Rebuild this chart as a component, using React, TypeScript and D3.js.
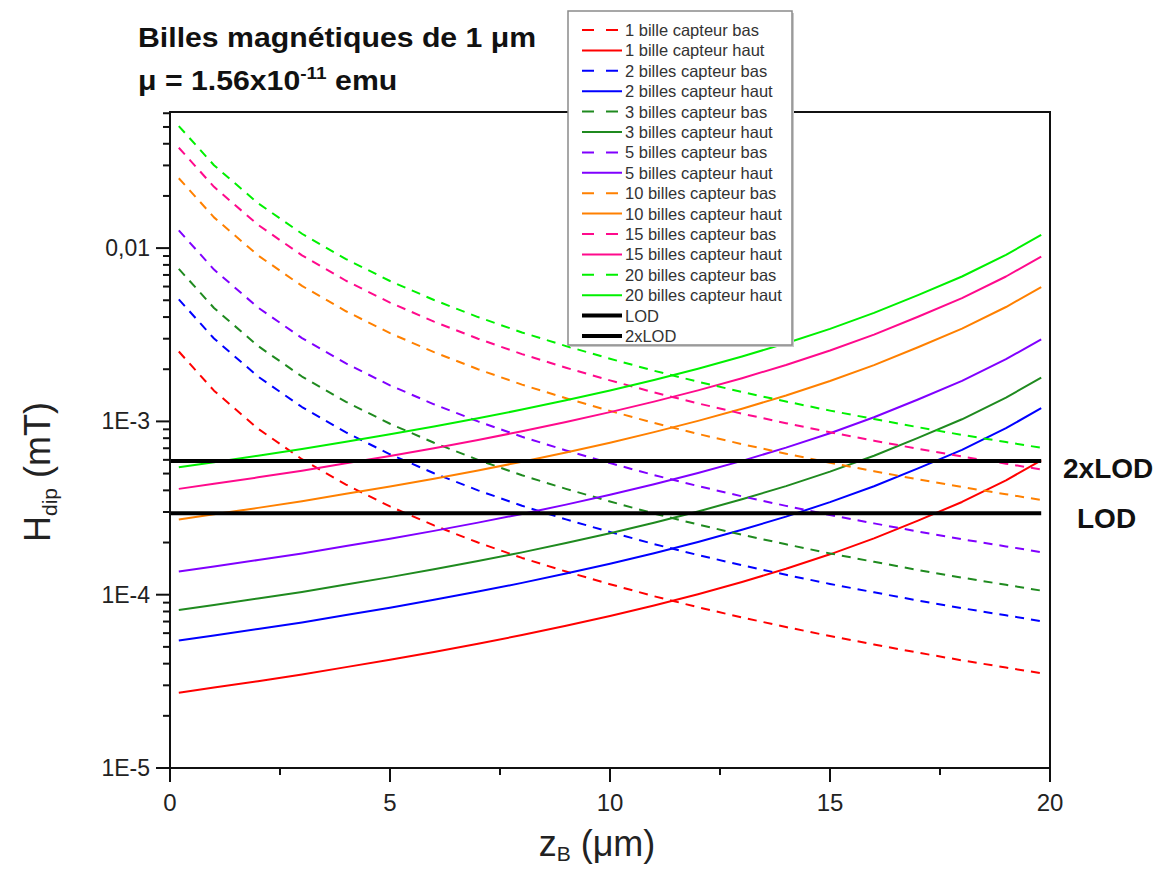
import React from 'react';
import * as d3 from 'd3';

// z positions (µm)
const zPositions = [0.2, 1, 2, 3, 4, 5, 6, 7, 8, 9, 10, 11, 12, 13, 14, 15, 16, 17, 18, 19, 19.8];

// "capteur bas" series (mT)
const bas1 = [2.53e-3, 1.504e-3, 9.08e-4, 6.05e-4, 4.32e-4, 3.23e-4, 2.51e-4, 2.0e-4, 1.63e-4, 1.36e-4, 1.15e-4, 9.8e-5, 8.47e-5, 7.39e-5, 6.51e-5, 5.77e-5, 5.16e-5, 4.63e-5, 4.18e-5, 3.8e-5, 3.52e-5];
const bas2 = [5.06e-3, 3.008e-3, 1.816e-3, 1.21e-3, 8.64e-4, 6.46e-4, 5.02e-4, 4.0e-4, 3.26e-4, 2.72e-4, 2.3e-4, 1.96e-4, 1.694e-4, 1.478e-4, 1.302e-4, 1.154e-4, 1.032e-4, 9.26e-5, 8.36e-5, 7.6e-5, 7.04e-5];
const bas3 = [7.59e-3, 4.512e-3, 2.724e-3, 1.815e-3, 1.296e-3, 9.69e-4, 7.53e-4, 6.0e-4, 4.89e-4, 4.08e-4, 3.45e-4, 2.94e-4, 2.541e-4, 2.217e-4, 1.953e-4, 1.731e-4, 1.548e-4, 1.389e-4, 1.254e-4, 1.14e-4, 1.056e-4];
const bas5 = [1.265e-2, 7.52e-3, 4.54e-3, 3.025e-3, 2.16e-3, 1.615e-3, 1.255e-3, 1.0e-3, 8.15e-4, 6.8e-4, 5.75e-4, 4.9e-4, 4.235e-4, 3.695e-4, 3.255e-4, 2.885e-4, 2.58e-4, 2.315e-4, 2.09e-4, 1.9e-4, 1.76e-4];
const bas10 = [2.53e-2, 1.504e-2, 9.08e-3, 6.05e-3, 4.32e-3, 3.23e-3, 2.51e-3, 2.0e-3, 1.63e-3, 1.36e-3, 1.15e-3, 9.8e-4, 8.47e-4, 7.39e-4, 6.51e-4, 5.77e-4, 5.16e-4, 4.63e-4, 4.18e-4, 3.8e-4, 3.52e-4];
const bas15 = [3.795e-2, 2.256e-2, 1.362e-2, 9.075e-3, 6.48e-3, 4.845e-3, 3.765e-3, 3.0e-3, 2.445e-3, 2.04e-3, 1.725e-3, 1.47e-3, 1.2705e-3, 1.1085e-3, 9.765e-4, 8.655e-4, 7.74e-4, 6.945e-4, 6.27e-4, 5.7e-4, 5.28e-4];
const bas20 = [5.06e-2, 3.008e-2, 1.816e-2, 1.21e-2, 8.64e-3, 6.46e-3, 5.02e-3, 4.0e-3, 3.26e-3, 2.72e-3, 2.3e-3, 1.96e-3, 1.694e-3, 1.478e-3, 1.302e-3, 1.154e-3, 1.032e-3, 9.26e-4, 8.36e-4, 7.6e-4, 7.04e-4];

// "capteur haut" series (mT)
const haut1 = [2.72e-5, 2.91e-5, 3.17e-5, 3.46e-5, 3.82e-5, 4.21e-5, 4.67e-5, 5.21e-5, 5.85e-5, 6.62e-5, 7.54e-5, 8.67e-5, 1.007e-4, 1.184e-4, 1.411e-4, 1.71e-4, 2.113e-4, 2.677e-4, 3.428e-4, 4.571e-4, 5.957e-4];
const haut2 = [5.44e-5, 5.82e-5, 6.34e-5, 6.92e-5, 7.64e-5, 8.42e-5, 9.34e-5, 1.042e-4, 1.17e-4, 1.324e-4, 1.508e-4, 1.734e-4, 2.014e-4, 2.368e-4, 2.822e-4, 3.42e-4, 4.226e-4, 5.354e-4, 6.856e-4, 9.142e-4, 1.1914e-3];
const haut3 = [8.16e-5, 8.73e-5, 9.51e-5, 1.038e-4, 1.146e-4, 1.263e-4, 1.401e-4, 1.563e-4, 1.755e-4, 1.986e-4, 2.262e-4, 2.601e-4, 3.021e-4, 3.552e-4, 4.233e-4, 5.13e-4, 6.339e-4, 8.031e-4, 1.0284e-3, 1.3713e-3, 1.7871e-3];
const haut5 = [1.36e-4, 1.455e-4, 1.585e-4, 1.73e-4, 1.91e-4, 2.105e-4, 2.335e-4, 2.605e-4, 2.925e-4, 3.31e-4, 3.77e-4, 4.335e-4, 5.035e-4, 5.92e-4, 7.055e-4, 8.55e-4, 1.0565e-3, 1.3385e-3, 1.714e-3, 2.2855e-3, 2.9785e-3];
const haut10 = [2.72e-4, 2.91e-4, 3.17e-4, 3.46e-4, 3.82e-4, 4.21e-4, 4.67e-4, 5.21e-4, 5.85e-4, 6.62e-4, 7.54e-4, 8.67e-4, 1.007e-3, 1.184e-3, 1.411e-3, 1.71e-3, 2.113e-3, 2.677e-3, 3.428e-3, 4.571e-3, 5.957e-3];
const haut15 = [4.08e-4, 4.365e-4, 4.755e-4, 5.19e-4, 5.73e-4, 6.315e-4, 7.005e-4, 7.815e-4, 8.775e-4, 9.93e-4, 1.131e-3, 1.3005e-3, 1.5105e-3, 1.776e-3, 2.1165e-3, 2.565e-3, 3.1695e-3, 4.0155e-3, 5.142e-3, 6.8565e-3, 8.9355e-3];
const haut20 = [5.44e-4, 5.82e-4, 6.34e-4, 6.92e-4, 7.64e-4, 8.42e-4, 9.34e-4, 1.042e-3, 1.17e-3, 1.324e-3, 1.508e-3, 1.734e-3, 2.014e-3, 2.368e-3, 2.822e-3, 3.42e-3, 4.226e-3, 5.354e-3, 6.856e-3, 9.142e-3, 1.1914e-2];

// Detection limits
const lodZ = [0, 19.8];
const lodValue = 2.95e-4;
const lod2Value = 5.9e-4;

const seriesNames = [
  '1 bille capteur bas', '1 bille capteur haut',
  '2 billes capteur bas', '2 billes capteur haut',
  '3 billes capteur bas', '3 billes capteur haut',
  '5 billes capteur bas', '5 billes capteur haut',
  '10 billes capteur bas', '10 billes capteur haut',
  '15 billes capteur bas', '15 billes capteur haut',
  '20 billes capteur bas', '20 billes capteur haut',
];
const seriesValues = [bas1, haut1, bas2, haut2, bas3, haut3, bas5, haut5, bas10, haut10, bas15, haut15, bas20, haut20];
const seriesColors = ['#ff0000', '#ff0000', '#0000ff', '#0000ff', '#1f8a1f', '#1f8a1f', '#8000ff', '#8000ff', '#ff8000', '#ff8000', '#ff0a8c', '#ff0a8c', '#00f000', '#00f000'];

const yTickValues = [1e-5, 1e-4, 1e-3, 1e-2];
const yTickLabels = ['1E-5', '1E-4', '1E-3', '0,01'];
const xTickValues = [0, 5, 10, 15, 20];
const xMinorTicks = [2.5, 7.5, 12.5, 17.5];

const FONT = 'Liberation Sans, Arial, Helvetica, sans-serif';

export default function App() {
  const W = 1162, H = 869;
  const L = 170, R = 1050, T = 112, B = 768;
  const x = d3.scaleLinear().domain([0, 20]).range([L, R]);
  const y = d3.scaleLog().domain([1e-5, 0.061]).range([B, T]);

  const line = d3.line<[number, number]>().x(d => x(d[0])).y(d => y(d[1]));

  const yMinor: number[] = [];
  for (let e = -5; e <= -2; e++) {
    for (let k = 2; k <= 9; k++) {
      const v = k * Math.pow(10, e);
      if (v <= 0.061) yMinor.push(v);
    }
  }

  const legendX = 568, legendY = 11, legendW = 224, legendH = 334;
  const rowY = (i: number) => 30 + i * 20.4;

  const legendItems = [
    ...seriesNames.map((n, i) => ({ name: n, color: seriesColors[i], dashed: i % 2 === 0, width: 2 })),
    { name: 'LOD', color: '#000', dashed: false, width: 4 },
    { name: '2xLOD', color: '#000', dashed: false, width: 4 },
  ];

  return (
    <svg width={W} height={H} style={{ position: 'absolute', left: 0, top: 0, background: '#fff' }} fontFamily={FONT}>
      <rect x={0} y={0} width={W} height={H} fill="#fff" />
      <defs>
        <clipPath id="plotClip">
          <rect x={L} y={T} width={R - L} height={B - T} />
        </clipPath>
      </defs>

      {/* Title */}
      <g transform={`translate(138,0) scale(1.12,1)`}>
        <text x={0} y={47} fontSize={27} fontWeight="bold" fill="#111">Billes magnétiques de 1 μm</text>
        <text x={0} y={90} fontSize={27} fontWeight="bold" fill="#111">
          μ = 1.56x10<tspan fontSize={17} dy={-11}>-11</tspan><tspan dy={11}> emu</tspan>
        </text>
      </g>

      {/* Curves */}
      <g clipPath="url(#plotClip)">
        {seriesValues.map((vals, i) => (
          <path
            key={i}
            d={line(zPositions.map((z, j) => [z, vals[j]] as [number, number])) || ''}
            fill="none"
            stroke={seriesColors[i]}
            strokeWidth={2}
            strokeDasharray={i % 2 === 0 ? '9,7' : undefined}
            strokeLinejoin="round"
          />
        ))}
        <path d={line(lodZ.map(z => [z, lod2Value] as [number, number])) || ''} stroke="#000" strokeWidth={4} fill="none" />
        <path d={line(lodZ.map(z => [z, lodValue] as [number, number])) || ''} stroke="#000" strokeWidth={4} fill="none" />
      </g>

      {/* Frame */}
      <rect x={L} y={T} width={R - L} height={B - T} fill="none" stroke="#111" strokeWidth={2} />

      {/* Y ticks */}
      {yTickValues.map((v, i) => (
        <g key={'yt' + i}>
          <line x1={L - 14} x2={L} y1={y(v)} y2={y(v)} stroke="#111" strokeWidth={2} />
          <text x={150} y={y(v) + 8} fontSize={23} textAnchor="end" fill="#222">{yTickLabels[i]}</text>
        </g>
      ))}
      {yMinor.map((v, i) => (
        <line key={'ym' + i} x1={L - 7} x2={L} y1={y(v)} y2={y(v)} stroke="#111" strokeWidth={2} />
      ))}

      {/* X ticks */}
      {xTickValues.map((v, i) => (
        <g key={'xt' + i}>
          <line x1={x(v)} x2={x(v)} y1={B} y2={B + 14} stroke="#111" strokeWidth={2} />
          <text x={x(v)} y={811} fontSize={24} textAnchor="middle" fill="#222">{String(v)}</text>
        </g>
      ))}
      {xMinorTicks.map((v, i) => (
        <line key={'xm' + i} x1={x(v)} x2={x(v)} y1={B} y2={B + 7} stroke="#111" strokeWidth={2} />
      ))}

      {/* Axis titles */}
      <text x={597} y={856} fontSize={36} textAnchor="middle" fill="#222">
        z<tspan fontSize={21} dy={5}>B</tspan><tspan dy={-5}> (μm)</tspan>
      </text>
      <text transform="translate(50,472) rotate(-90)" fontSize={36} textAnchor="middle" fill="#222">
        H<tspan fontSize={21} dy={7}>dip</tspan><tspan dy={-7}> (mT)</tspan>
      </text>

      {/* LOD labels */}
      <text x={1063} y={478} fontSize={28} fontWeight="bold" fill="#111">2xLOD</text>
      <text x={1077} y={528} fontSize={28} fontWeight="bold" fill="#111">LOD</text>

      {/* Legend */}
      <rect x={legendX + 2} y={legendY + 2} width={legendW} height={legendH} fill="#c8c8c8" />
      <rect x={legendX} y={legendY} width={legendW} height={legendH} fill="#fff" stroke="#8a8a8a" strokeWidth={1.5} />
      {legendItems.map((it, i) => (
        <g key={'lg' + i}>
          <line x1={582} x2={622} y1={rowY(i)} y2={rowY(i)} stroke={it.color} strokeWidth={it.width}
            strokeDasharray={it.dashed ? '12,12' : undefined} />
          <text x={625} y={rowY(i) + 6} fontSize={16.5} fill="#333">{it.name}</text>
        </g>
      ))}
    </svg>
  );
}
